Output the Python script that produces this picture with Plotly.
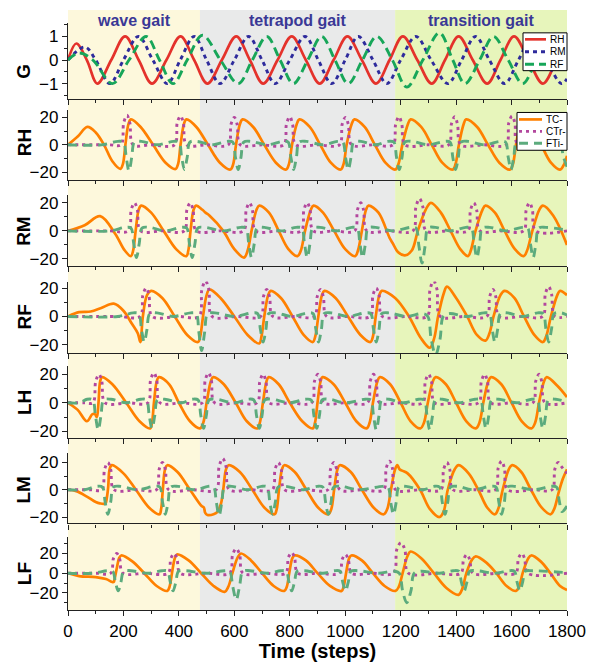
import plotly.graph_objects as go

# ---------------------------------------------------------------
# Oscillator outputs (G) and joint angles of the six legs
# Each series is a list of (time step, value) points along the trace
# ---------------------------------------------------------------
G_RH = [(0, 0), (30, 0.7), (68, 0), (106, -1), (156, 0), (206, 1), (255, 0), (303, -1),
        (355, 0), (406, 1), (455, 0), (503, -1), (555, 0), (607, 1), (656, 0), (704, -1),
        (756, 0), (807, 1), (858, 0), (908, -1), (958, 0), (1008, 1), (1060, 0), (1111, -1),
        (1160, 0), (1208, 1), (1260, 0), (1312, -1), (1360, 0), (1409, 1), (1460, 0),
        (1512, -1), (1560, 0), (1609, 1), (1661, 0), (1713, -1), (1762, 0), (1800, 0.95)]
G_RM = [(0, 0), (61, 0.55), (100, 0), (151, -1), (200, 0), (254, 1), (306, 0), (358, -1),
        (405, 0), (455, 1), (500, 0), (548, -1), (600, 0), (651, 1), (700, 0), (747, -1),
        (800, 0), (855, 1), (903, 0), (951, -1), (1000, 0), (1047, 1), (1100, 0), (1150, -1),
        (1200, 0), (1255, 1), (1310, 0), (1370, -1), (1420, 0), (1470, 1), (1520, 0),
        (1575, -1), (1625, 0), (1675, 1), (1725, 0), (1780, -1), (1800, -0.8)]
G_RF = [(0, 0), (40, 0.3), (90, 0), (160, -1), (220, 0), (282, 1), (330, 0), (379, -1),
        (430, 0), (485, 1.05), (550, 0), (614, -1), (665, 0), (717, 1), (765, 0), (813, -1),
        (865, 0), (915, 1), (963, 0), (1011, -1), (1062, 0), (1114, 1), (1170, 0),
        (1222, -1.15), (1280, 0), (1340, 1.15), (1388, 0), (1432, -1), (1485, 0), (1535, 1),
        (1588, 0), (1640, -1), (1690, 0), (1740, 1), (1775, 0), (1800, -0.6)]

# TC- joint (orange)
RH_TC = [(0, 0), (35, 6), (70, 13), (100, 9), (130, 0), (160, -12), (189, -17.5),
         (198, -14), (207, 0), (218, 15), (227, 18.5), (262, 13), (307, 0), (352, -13), (388, -17.6),
         (397, -14), (406, 0), (418, 15), (427, 18.5), (463, 13), (505, 0), (548, -13), (586, -18),
         (596, -14), (606, 0), (620, 15), (630, 18.5), (668, 13), (708, 0), (750, -13), (787, -18),
         (797, -14), (808, 0), (825, 15), (835, 18.5), (872, 13), (910, 0), (948, -13), (984, -18),
         (994, -14), (1005, 0), (1023, 15), (1033, 18.5), (1070, 13), (1107, 0), (1145, -13),
         (1181, -18), (1192, -14), (1206, 0), (1226, 15), (1236, 18.5), (1274, 13), (1312, 0),
         (1350, -13), (1388, -18), (1398, -14), (1410, 0), (1427, 15), (1436, 18.5), (1476, 13),
         (1515, 0), (1556, -13), (1595, -18), (1605, -14), (1616, 0), (1631, 15), (1640, 18.5),
         (1673, 13), (1707, 0), (1742, -13), (1775, -18), (1790, -14), (1800, -8)]
RM_TC = [(0, 0), (60, 4), (116, 10.5), (170, -2), (205, -14), (227, -18),
         (235, -14), (244, 0), (255, 15), (264, 18), (300, 13), (345, 0), (390, -13), (427, -18),
         (434, -14), (442, 0), (453, 15), (462, 18), (485, 15), (496, 13), (510, 11), (560, 0),
         (600, -13), (635, -19), (648, -14), (662, 0), (680, 15), (690, 18), (725, 13), (760, 0),
         (795, -13), (828, -18), (840, -14), (855, 0), (876, 15), (886, 18), (920, 13), (960, 0),
         (1000, -13), (1036, -18), (1046, -14), (1060, 0), (1075, 15), (1084, 18), (1120, 13),
         (1160, -5), (1172, -9), (1190, -15), (1215, -17.5), (1240, -14), (1262, 0), (1290, 15),
         (1309, 20), (1345, 13), (1380, 0), (1415, -13), (1443, -18), (1453, -14), (1470, 0),
         (1495, 15), (1506, 18), (1540, 13), (1575, 0), (1612, -13), (1644, -18), (1656, -14),
         (1675, 0), (1700, 15), (1713, 18), (1750, 11), (1800, -10)]
RF_TC = [(0, 0), (40, 3), (82, 3.5), (120, 6), (165, 9), (200, 4), (230, -5), (252, -12),
         (261, -18), (270, 0), (285, 15), (300, 18), (340, 13), (385, 0), (430, -13), (469, -18),
         (477, -14), (487, 0), (500, 15), (510, 19), (550, 13), (600, 0), (648, -13), (690, -19),
         (698, -14), (708, 0), (722, 15), (731, 18), (768, 13), (810, 0), (850, -13), (883, -18),
         (892, -14), (903, 0), (916, 15), (925, 18), (965, 13), (1010, 0), (1055, -13),
         (1091, -18), (1100, -14), (1110, 0), (1123, 15), (1132, 18), (1180, 13), (1230, 0),
         (1272, -15), (1305, -22), (1320, -16), (1335, 0), (1355, 16), (1367, 21), (1400, 13),
         (1440, 0), (1475, -13), (1506, -17), (1520, -12), (1535, 0), (1560, 15), (1575, 18),
         (1610, 13), (1645, 0), (1682, -13), (1713, -18), (1725, -14), (1742, 0), (1765, 15),
         (1775, 18), (1800, 15)]
LH_TC = [(0, 0), (35, -5), (68, -13), (88, -8), (97, -8), (104, -10), (110, 0), (116, 15),
         (123, 18), (160, 13), (210, 0), (258, -13), (296, -18),
         (303, -14), (310, 0), (320, 15), (328, 18), (365, 13), (400, 0), (440, -13), (476, -18),
         (488, -14), (500, 0), (515, 15), (524, 18), (562, 13), (605, 0), (645, -13), (683, -18),
         (692, -14), (703, 0), (716, 15), (724, 18), (760, 13), (800, 0), (845, -13), (883, -18),
         (891, -14), (900, 0), (911, 15), (918, 18), (958, 13), (1000, 0), (1040, -13),
         (1077, -18), (1088, -14), (1100, 0), (1116, 15), (1125, 18), (1162, 13), (1200, 0),
         (1236, -13), (1271, -18), (1284, -14), (1298, 0), (1316, 15), (1326, 18), (1363, 13),
         (1400, 0), (1437, -13), (1471, -18), (1484, -14), (1498, 0), (1516, 15), (1526, 18),
         (1563, 13), (1600, 0), (1637, -13), (1672, -18), (1685, -14), (1699, 0), (1717, 15),
         (1727, 18), (1765, 12), (1800, 4)]
LM_TC = [(0, 0), (30, -1), (68, -5), (100, -9), (115, -10), (135, -10), (140, -6), (145, 2),
         (150, 15), (158, 18), (200, 12), (245, 0), (292, -13), (330, -18),
         (336, -14), (342, 0), (350, 15), (358, 18), (395, 13), (440, 0), (482, -12), (490, -13),
         (495, -17), (503, -18.5), (525, -18), (540, -16), (552, -10), (560, 0), (570, 15),
         (579, 18), (620, 13), (665, 0), (708, -13), (745, -18), (753, -14), (761, 0), (772, 15),
         (780, 18), (818, 13), (860, 0), (902, -13), (939, -18), (950, -14), (960, 0), (972, 15),
         (980, 18), (1020, 13), (1060, 0), (1102, -13), (1139, -18), (1152, -14), (1165, 0),
         (1180, 15), (1188, 18), (1196, 15), (1205, 14), (1225, 12), (1270, 0), (1305, -14),
         (1340, -20), (1355, -16), (1370, 0), (1395, 15), (1409, 18), (1445, 12), (1480, 0),
         (1512, -13), (1540, -18), (1552, -14), (1568, 0), (1590, 15), (1602, 18), (1635, 13),
         (1670, 0), (1708, -13), (1741, -18), (1754, -14), (1770, -2), (1785, 8), (1800, 15)]
LF_TC = [(0, 0), (40, -3), (100, -4), (137, -6), (160, -9), (165, -9), (168, -6), (176, 5),
         (184, 15), (192, 18), (232, 12), (275, 0), (320, -13), (358, -18),
         (366, -14), (375, 0), (385, 15), (393, 19), (435, 13), (480, 0), (525, -13), (565, -19),
         (578, -14), (593, 0), (612, 16), (624, 20), (660, 13), (700, 0), (742, -13), (780, -18),
         (789, -14), (798, 0), (809, 15), (817, 18), (858, 13), (900, 0), (945, -13), (987, -18),
         (994, -14), (1003, 0), (1014, 15), (1022, 18), (1060, 13), (1100, 0), (1142, -13),
         (1181, -18), (1193, -14), (1207, 0), (1224, 17), (1236, 22), (1275, 15), (1320, 0),
         (1365, -15), (1409, -22), (1422, -16), (1437, 0), (1458, 14), (1471, 17), (1508, 11),
         (1545, 0), (1582, -13), (1616, -18), (1627, -14), (1640, 0), (1660, 15), (1671, 18),
         (1705, 12), (1740, 0), (1775, -13), (1800, -17)]

# CTr- joint (magenta): flat with one lift pulse per step cycle
RH_CTR = [(0, 0), (150, 0), (191, 0), (201, 16), (213, 21.5), (223, 16), (235, 0), (300, 0),
          (384, 0), (394, 16), (406, 21), (416, 16), (428, 0), (500, 0),
          (578, 0), (588, 15), (600, 20), (610, 15), (622, 0), (700, 0),
          (778, 0), (788, 15), (800, 20.5), (810, 15), (822, 0), (900, 0),
          (979, 0), (989, 15), (1001, 20), (1011, 15), (1023, 0), (1100, 0),
          (1172, 0), (1182, 15), (1194, 20.5), (1204, 15), (1216, 0), (1300, 0),
          (1373, 0), (1383, 15), (1395, 20.5), (1405, 15), (1417, 0), (1500, 0),
          (1580, 0), (1590, 16), (1602, 21), (1612, 16), (1624, 0), (1800, 0)]
RM_CTR = [(0, 0), (150, 0), (218, 0), (228, 15), (240, 20), (250, 15), (262, 0), (340, 0),
          (419, 0), (429, 15), (441, 20), (451, 15), (463, 0), (550, 0),
          (633, 0), (643, 15), (655, 20), (665, 15), (677, 0), (760, 0),
          (841, 0), (851, 15), (863, 20), (873, 15), (885, 0), (960, 0),
          (1034, 0), (1044, 15), (1056, 20), (1066, 15), (1078, 0), (1160, 0),
          (1244, 0), (1255, 17), (1268, 23), (1280, 17), (1292, 0), (1370, 0),
          (1442, 0), (1452, 15), (1464, 20), (1474, 15), (1486, 0), (1560, 0),
          (1643, 0), (1653, 15), (1665, 20), (1675, 15), (1687, 0), (1800, 0)]
RF_CTR = [(0, 0), (180, 0), (260, 0), (270, 15), (282, 20), (292, 15), (304, 0), (400, 0),
          (472, 0), (483, 19), (496, 25), (508, 19), (520, 0), (610, 0),
          (695, 0), (705, 14), (717, 19), (727, 14), (739, 0), (820, 0),
          (889, 0), (899, 14), (911, 19), (921, 14), (933, 0), (1010, 0),
          (1090, 0), (1100, 15), (1112, 20), (1122, 15), (1134, 0), (1220, 0),
          (1295, 0), (1306, 19), (1319, 25), (1331, 19), (1343, 0), (1430, 0),
          (1511, 0), (1521, 14), (1533, 19), (1543, 14), (1555, 0), (1640, 0),
          (1712, 0), (1722, 16), (1734, 21), (1744, 16), (1756, 0), (1800, 0)]
LH_CTR = [(0, 0), (60, 0), (90, 0), (100, 15), (112, 20), (122, 15), (134, 0), (220, 0),
          (288, 0), (298, 16), (310, 21), (320, 16), (332, 0), (410, 0),
          (485, 0), (495, 16), (507, 21), (517, 16), (529, 0), (610, 0),
          (682, 0), (692, 15), (704, 20), (714, 15), (726, 0), (800, 0),
          (879, 0), (889, 15), (901, 20), (911, 15), (923, 0), (1000, 0),
          (1080, 0), (1090, 15), (1102, 20), (1112, 15), (1124, 0), (1200, 0),
          (1279, 0), (1289, 15), (1301, 20), (1311, 15), (1323, 0), (1400, 0),
          (1481, 0), (1491, 15), (1503, 20), (1513, 15), (1525, 0), (1600, 0),
          (1677, 0), (1687, 15), (1699, 20), (1709, 15), (1721, 0), (1800, 0)]
LM_CTR = [(0, 0), (80, 0), (122, 0), (132, 15), (144, 20), (154, 15), (166, 0), (250, 0),
          (319, 0), (329, 15), (341, 20), (351, 15), (363, 0), (450, 0),
          (534, 0), (545, 17), (558, 23), (570, 17), (582, 0), (660, 0),
          (737, 0), (747, 15), (759, 20), (769, 15), (781, 0), (860, 0),
          (937, 0), (947, 15), (959, 20), (969, 15), (981, 0), (1060, 0),
          (1138, 0), (1148, 16), (1160, 21), (1170, 16), (1182, 0), (1270, 0),
          (1345, 0), (1355, 15), (1367, 20), (1377, 15), (1389, 0), (1470, 0),
          (1542, 0), (1552, 16), (1564, 21), (1574, 16), (1586, 0), (1680, 0),
          (1746, 0), (1756, 15), (1768, 20), (1780, 17), (1800, 12)]
LF_CTR = [(0, 0), (100, 0), (154, 0), (164, 15), (176, 20), (186, 15), (198, 0), (280, 0),
          (361, 0), (371, 15), (383, 20), (393, 15), (405, 0), (500, 0),
          (583, 0), (594, 19), (607, 25), (619, 19), (631, 0), (710, 0),
          (785, 0), (795, 16), (807, 21), (817, 16), (829, 0), (900, 0),
          (979, 0), (989, 14), (1001, 19), (1011, 14), (1023, 0), (1100, 0),
          (1174, 0), (1186, 24), (1201, 31), (1215, 24), (1228, 0), (1330, 0),
          (1417, 0), (1427, 14), (1439, 19), (1449, 14), (1461, 0), (1550, 0),
          (1615, 0), (1625, 15), (1637, 20), (1647, 15), (1659, 0), (1800, 0)]

# FTi- joint (green): resting near zero with one flexion dip per cycle
RH_FTI = [(0, 0), (120, 0), (180, 2.5), (200, 2), (210, -9), (220, -19), (230, -9), (240, 2),
          (265, 2.5), (320, 0), (380, 2.5), (400, 2), (410, -9), (420, -18), (430, -9),
          (440, 2), (465, 2.5), (520, 0), (574, 2.5), (594, 2), (604, -9), (614, -18),
          (624, -9), (634, 2), (660, 2.5), (720, 0), (774, 2.5), (794, 2), (804, -9),
          (814, -18), (824, -9), (834, 2), (860, 2.5), (920, 0), (971, 2.5), (991, 2),
          (1001, -9), (1011, -18), (1021, -9), (1031, 2), (1057, 2.5), (1110, 0),
          (1155, 2.5), (1175, 2), (1185, -9), (1195, -18), (1205, -9), (1215, 2), (1241, 2.5),
          (1300, 0), (1358, 2.5), (1378, 2), (1388, -9), (1398, -18), (1408, -9), (1418, 2),
          (1444, 2.5), (1500, 0), (1558, 2.5), (1578, 2), (1588, -9), (1598, -18), (1608, -9),
          (1618, 2), (1644, 2.5), (1700, 0), (1756, 2.5), (1776, 2), (1786, -8), (1800, -16)]
RM_FTI = [(0, 0), (150, 0), (207, 2.5), (227, 2), (237, -9), (247, -19), (257, -9), (267, 2),
          (293, 2.5), (350, 0), (408, 2.5), (428, 2), (438, -9), (448, -19), (458, -9),
          (468, 2), (494, 2.5), (560, 0), (622, 2.5), (642, 2), (652, -9), (662, -19),
          (672, -9), (682, 2), (708, 2.5), (770, 0), (823, 2.5), (843, 2), (853, -9),
          (863, -19), (873, -9), (883, 2), (909, 2.5), (970, 0), (1023, 2.5), (1043, 2),
          (1053, -9), (1063, -19), (1073, -9), (1083, 2), (1109, 2.5), (1170, 0),
          (1237, 2.5), (1255, 2), (1266, -11), (1277, -23), (1288, -11), (1299, 2),
          (1325, 2.5), (1380, 0), (1435, 2.5), (1455, 2), (1465, -9), (1475, -19), (1485, -9),
          (1495, 2), (1521, 2.5), (1580, 0), (1638, 2.5), (1658, 2), (1668, -9), (1678, -19),
          (1688, -9), (1698, 2), (1724, 2.5), (1800, 0.5)]
RF_FTI = [(0, 0), (180, 0), (235, 2.5), (255, 2), (265, -9), (275, -18), (285, -9), (295, 2),
          (321, 2.5), (380, 0), (442, 2.5), (462, 2), (472, -11), (482, -24), (493, -11),
          (504, 2), (530, 2.5), (600, 0), (664, 2.5), (684, 2), (694, -9), (704, -18),
          (714, -9), (724, 2), (750, 2.5), (810, 0), (864, 2.5), (884, 2), (894, -9),
          (904, -18), (914, -9), (924, 2), (950, 2.5), (1010, 0), (1072, 2.5), (1092, 2),
          (1102, -9), (1112, -18), (1122, -9), (1132, 2), (1158, 2.5), (1220, 0), (1280, 2),
          (1298, 0), (1310, -16), (1326, -27), (1342, -16), (1354, 0), (1375, 2), (1440, 0),
          (1500, 2.5), (1520, 2), (1530, -9), (1540, -18), (1550, -9), (1560, 2), (1586, 2.5),
          (1640, 0), (1694, 2.5), (1714, 2), (1724, -9), (1734, -18), (1744, -9), (1754, 2),
          (1780, 2.5), (1800, 1)]
LH_FTI = [(0, 0), (40, 0), (69, 2.5), (89, 2), (99, -9), (109, -19), (119, -9), (129, 2),
          (155, 2.5), (210, 0), (263, 2.5), (283, 2), (293, -9), (303, -18), (313, -9),
          (323, 2), (349, 2.5), (410, 0), (449, 2.5), (469, 2), (479, -9), (489, -18),
          (499, -9), (509, 2), (535, 2.5), (600, 0), (650, 2.5), (670, 2), (680, -9),
          (690, -18), (700, -9), (710, 2), (736, 2.5), (800, 0), (857, 2.5), (877, 2),
          (887, -9), (897, -18), (907, -9), (917, 2), (943, 2.5), (1000, 0), (1072, 2.5),
          (1092, 2), (1102, -9), (1112, -19), (1122, -9), (1132, 2), (1158, 2.5), (1210, 0),
          (1265, 2.5), (1285, 2), (1295, -9), (1305, -19), (1315, -9), (1325, 2), (1351, 2.5),
          (1410, 0), (1468, 2.5), (1488, 2), (1498, -9), (1508, -18), (1518, -9), (1528, 2),
          (1554, 2.5), (1620, 0), (1673, 2.5), (1693, 2), (1703, -9), (1713, -18), (1723, -9),
          (1733, 2), (1759, 2.5), (1800, 0.5)]
LM_FTI = [(0, 0), (60, 0), (104, 2.5), (124, 2), (134, -9), (144, -18), (154, -9), (164, 2),
          (190, 2.5), (250, 0), (311, 2.5), (331, 2), (341, -9), (351, -18), (361, -9),
          (371, 2), (397, 2.5), (460, 0), (505, 2.5), (525, 2), (535, -9), (545, -19),
          (555, -9), (565, 2), (591, 2.5), (650, 0), (698, 2.5), (718, 2), (728, -9),
          (738, -18), (748, -9), (758, 2), (784, 2.5), (850, 0), (899, 2.5), (919, 2),
          (929, -9), (939, -18), (949, -9), (959, 2), (985, 2.5), (1050, 0), (1134, 2.5),
          (1154, 2), (1164, -9), (1174, -18), (1184, -9), (1194, 2), (1220, 2.5), (1280, 0),
          (1320, 2.5), (1340, 2), (1350, -9), (1360, -18), (1370, -9), (1380, 2), (1406, 2.5),
          (1460, 0), (1524, 2.5), (1544, 2), (1554, -9), (1564, -18), (1574, -9), (1584, 2),
          (1610, 2.5), (1680, 0), (1742, 2.5), (1762, 2), (1772, -8), (1782, -16),
          (1800, -12)]
LF_FTI = [(0, 0), (90, 0), (141, 2.5), (161, 2), (171, -9), (181, -18), (191, -9), (201, 2),
          (227, 2.5), (290, 0), (339, 2.5), (359, 2), (369, -9), (379, -18), (389, -9),
          (399, 2), (425, 2.5), (500, 0), (565, 2.5), (583, 2), (594, -13), (607, -27),
          (619, -13), (631, 2), (657, 2.5), (720, 0), (767, 2.5), (787, 2), (797, -9),
          (807, -18), (817, -9), (827, 2), (853, 2.5), (920, 0), (961, 2.5), (981, 2),
          (991, -9), (1001, -18), (1011, -9), (1021, 2), (1047, 2.5), (1120, 0), (1175, 2),
          (1195, 0), (1207, -18), (1222, -30), (1237, -18), (1249, 0), (1272, 2), (1340, 0),
          (1389, 2.5), (1409, 2), (1419, -9), (1429, -18), (1439, -9), (1449, 2), (1475, 2.5),
          (1540, 0), (1590, 2.5), (1610, 2), (1620, -9), (1630, -18), (1640, -9), (1650, 2),
          (1676, 2.5), (1800, 0.5)]

PANELS = ["G", "RH", "RM", "RF", "LH", "LM", "LF"]
LEG_SERIES = {
    "RH": (RH_TC, RH_CTR, RH_FTI),
    "RM": (RM_TC, RM_CTR, RM_FTI),
    "RF": (RF_TC, RF_CTR, RF_FTI),
    "LH": (LH_TC, LH_CTR, LH_FTI),
    "LM": (LM_TC, LM_CTR, LM_FTI),
    "LF": (LF_TC, LF_CTR, LF_FTI),
}
G_NAMES = ["RH", "RM", "RF"]
JOINT_NAMES = ["TC-", "CTr-", "FTi-"]
GAITS = [("wave gait", 0, 476), ("tetrapod gait", 476, 1180), ("transition gait", 1180, 1800)]

# ---------------------------------------------------------------
# Styling / layout geometry
# ---------------------------------------------------------------
W, H = 599, 662
M_L, M_R, M_T, M_B = 68, 32, 0, 52
PW = W - M_L - M_R            # plotting width in px
PH = H - M_T - M_B            # plotting height in px

# per-row: top px, bottom px, y-range, major dtick, minor dtick
ROWS = {
    "G":  (20, 96.5, [-1.654, 1.574], 1, 0.5),
    "RH": (108, 178, [-25.7, 25.0], 20, 10),
    "RM": (193, 264, [-24.8, 25.5], 20, 10),
    "RF": (280, 352, [-25.9, 24.5], 20, 10),
    "LH": (365, 437.5, [-25.0, 25.7], 20, 10),
    "LM": (452, 523, [-24.7, 27.1], 20, 10),
    "LF": (537, 610, [-37.4, 36.4], 20, 10),
}
LABEL_Y = {"G": 69, "RH": 141, "RM": 229, "RF": 316, "LH": 402, "LM": 490, "LF": 574}

G_STYLE = [
    dict(color="#e4322b", width=2.7, dash="solid"),
    dict(color="#2e2b9c", width=2.9, dash="4px,4px"),
    dict(color="#17a659", width=2.9, dash="9px,5px"),
]
JOINT_STYLE = [
    dict(color="#ff8000", width=2.7, dash="solid"),
    dict(color="#b3479e", width=2.9, dash="3px,4px"),
    dict(color="#5cab7d", width=2.9, dash="9px,6px"),
]
SHADES = ["#fdf8dc", "#e9eaea", "#e7f5bb"]
GAIT_COLOR = "#3a3896"
FONT = "Arial, Liberation Sans, sans-serif"

# hand-placed legend boxes: (left px, right px, top px, bottom px, line x0, line x1, text x, row ys)
LEGEND_BOXES = [
    (523, 567, 30, 68, 525, 546, 548, [36.5, 49, 61.5], G_NAMES, G_STYLE),
    (517, 567, 110, 148, 519, 542, 544, [117, 129, 141], JOINT_NAMES, JOINT_STYLE),
]


def xy(points):
    return [p[0] for p in points], [p[1] for p in points]


def px_x(p):
    return (p - M_L) / PW


def px_y(p):
    return (PH - p) / PH


fig = go.Figure()

for i, name in enumerate(PANELS):
    sfx = "" if i == 0 else str(i + 1)
    xa, ya = "x" + sfx, "y" + sfx
    if name == "G":
        groups = zip(G_NAMES, (G_RH, G_RM, G_RF), G_STYLE)
    else:
        groups = zip(JOINT_NAMES, LEG_SERIES[name], JOINT_STYLE)
    for label, pts, style in groups:
        x, y = xy(pts)
        fig.add_trace(go.Scatter(
            x=x, y=y, mode="lines", name=label, xaxis=xa, yaxis=ya,
            line=dict(shape="spline", smoothing=1.0, **style), showlegend=False))

    top, bot, yr, dt, mdt = ROWS[name]
    last = i == len(PANELS) - 1
    fig.layout["xaxis" + sfx] = dict(
        domain=[0, 1], range=[0, 1800], anchor=ya,
        showline=True, linecolor="#222222", linewidth=1.3,
        ticks="outside", ticklen=5, tickwidth=1, tickcolor="#222222",
        tick0=0, dtick=200, showticklabels=last, showgrid=False, zeroline=False,
        minor=dict(ticks="outside", ticklen=3, tickcolor="#222222", dtick=100, showgrid=False),
        tickfont=dict(family=FONT, size=17, color="black"),
        title=dict(text="<b>Time (steps)</b>" if last else "",
                   font=dict(family=FONT, size=20, color="black"), standoff=4),
    )
    fig.layout["yaxis" + sfx] = dict(
        domain=[px_y(bot), px_y(top)], range=yr, anchor=xa,
        showline=True, linecolor="#222222", linewidth=1.3,
        ticks="outside", ticklen=5, tickwidth=1, tickcolor="#222222",
        tick0=0, dtick=dt, showgrid=False, zeroline=False,
        minor=dict(ticks="outside", ticklen=3, tickcolor="#222222", dtick=mdt, showgrid=False),
        tickfont=dict(family=FONT, size=17, color="black"),
    )
    fig.add_annotation(
        text="<b>%s</b>" % name, xref="paper", yref="paper",
        x=px_x(24), y=px_y(LABEL_Y[name]),
        textangle=-90, showarrow=False, xanchor="center", yanchor="middle",
        font=dict(family=FONT, size=19, color="black"))

# gait phases as background bands and titles
for (label, x0, x1), col in zip(GAITS, SHADES):
    fig.add_shape(type="rect", xref="x", yref="paper", x0=x0, x1=x1,
                  y0=0, y1=px_y(7), fillcolor=col, line_width=0, layer="below")
    fig.add_annotation(text="<b>%s</b>" % label, xref="x", yref="paper",
                       x=(x0 + x1) / 2, y=px_y(18), showarrow=False,
                       xanchor="center", yanchor="middle",
                       font=dict(family=FONT, size=16, color=GAIT_COLOR))

# compact legends drawn in paper coordinates
for left, right, top, bot, lx0, lx1, tx, ys, names, styles in LEGEND_BOXES:
    fig.add_shape(type="rect", xref="paper", yref="paper",
                  x0=px_x(left), x1=px_x(right), y0=px_y(bot), y1=px_y(top),
                  fillcolor="white", line=dict(color="black", width=1))
    for yy, nm, st in zip(ys, names, styles):
        fig.add_shape(type="line", xref="paper", yref="paper",
                      x0=px_x(lx0), x1=px_x(lx1), y0=px_y(yy), y1=px_y(yy),
                      line=dict(color=st["color"], width=st["width"], dash=st["dash"]))
        fig.add_annotation(text=nm, xref="paper", yref="paper", x=px_x(tx), y=px_y(yy),
                           xanchor="left", yanchor="middle", showarrow=False,
                           font=dict(family=FONT, size=10, color="black"))

fig.update_layout(
    width=W, height=H,
    margin=dict(l=M_L, r=M_R, t=M_T, b=M_B),
    paper_bgcolor="white", plot_bgcolor="rgba(0,0,0,0)",
    showlegend=False,
    font=dict(family=FONT),
)

fig.write_html("out.html")
